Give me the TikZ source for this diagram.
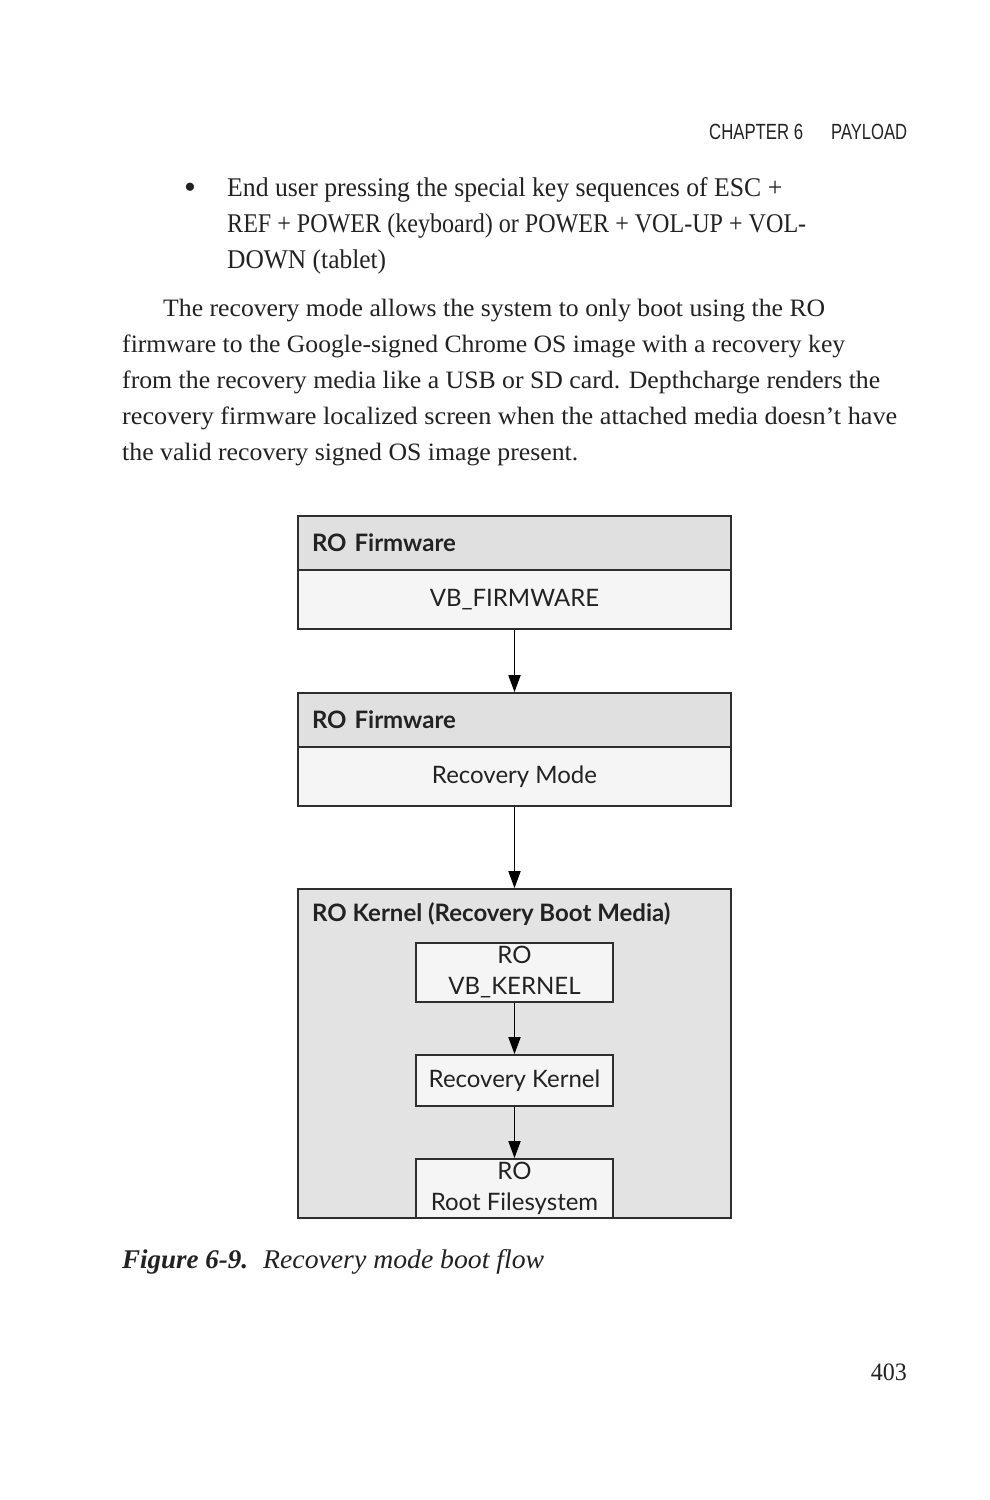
\documentclass[tikz,border=0pt]{standalone}
\usepackage{fontspec}
\usepackage{graphicx}
\setmainfont{Liberation Serif}
\newfontfamily\diagfont{Lato}
\newfontfamily\headfont{Liberation Sans}
\usetikzlibrary{arrows.meta}
\definecolor{hdrgray}{HTML}{E0E0E0}
\definecolor{paleg}{HTML}{F5F5F5}
\definecolor{outerg}{HTML}{E3E3E3}
\definecolor{edgec}{HTML}{2E2E2E}
\definecolor{ink}{HTML}{222222}
\newcommand{\fitw}[2]{\resizebox{#1pt}{\height}{#2}}
\tikzset{
  bodyline/.style={anchor=base west, inner sep=0pt, text=ink, font=\fontsize{25}{25}\selectfont},
  bulletline/.style={anchor=base west, inner sep=0pt, text=ink, font=\fontsize{27}{27}\selectfont},
  headline/.style={anchor=base west, inner sep=0pt, text=ink, font=\headfont\fontsize{22}{22}\selectfont},
  hdrbox/.style={draw=edgec, line width=1.7pt, fill=hdrgray, minimum width=433pt, minimum height=54pt, inner sep=0pt, text width=405pt, align=left, font=\diagfont\bfseries\fontsize{24}{28}\selectfont, text=ink},
  bodybox/.style={draw=edgec, line width=1.7pt, fill=paleg, minimum width=433pt, minimum height=59pt, inner sep=0pt, align=center, font=\diagfont\fontsize{24}{28}\selectfont, text=ink},
  innerbox/.style={draw=edgec, line width=1.7pt, fill=paleg, minimum width=197pt, inner sep=0pt, align=center, font=\diagfont\fontsize{24}{31}\selectfont, text=ink},
  outerbox/.style={draw=edgec, line width=1.7pt, fill=outerg, minimum width=433pt, minimum height=329pt, inner sep=0pt},
  arr/.style={draw=black, line width=1.7pt, -{Triangle[length=17pt, width=12pt]}}
}
\begin{document}
\begin{tikzpicture}[x=1pt, y=-1pt]
\fill[white] (0,0) rectangle (989,1500);
\useasboundingbox (0,0) rectangle (989,1500);

% running header
\node[headline] (hch) at (709,139) {\fitw{94}{CHAPTER 6}};
\node[headline] (hpl) at (831,139) {\fitw{76}{PAYLOAD}};

% bullet item
\node[anchor=base, inner sep=0pt, text=ink, font=\fontsize{34}{34}\selectfont] (bul) at (190,198) {\textbullet};
\node[bulletline] (l1) at (227,196) {\fitw{555}{End user pressing the special key sequences of ESC +}};
\node[bulletline] (l2) at (227,232) {\fitw{579}{REF + POWER (keyboard) or POWER + VOL-UP + VOL-}};
\node[bulletline] (l3) at (227,268) {\fitw{159}{DOWN (tablet)}};

% paragraph
\node[bodyline] (p1) at (163,316) {\fitw{662}{The recovery mode allows the system to only boot using the RO}};
\node[bodyline] (p2) at (122,352) {\fitw{723}{firmware to the Google-signed Chrome OS image with a recovery key}};
\node[bodyline] (p3) at (122,388) {\fitw{758}{from the recovery media like a USB or SD card. Depthcharge renders the}};
\node[bodyline] (p4) at (122,424) {\fitw{775}{recovery firmware localized screen when the attached media doesn’t have}};
\node[bodyline] (p5) at (122,460) {\fitw{456}{the valid recovery signed OS image present.}};

% diagram
\node[hdrbox] (h1) at (514.5,543) {RO Firmware};
\node[bodybox] (b1) at (514.5,599.5) {VB\_FIRMWARE};
\node[hdrbox] (h2) at (514.5,720) {RO Firmware};
\node[bodybox] (b2) at (514.5,776.5) {Recovery Mode};
\node[outerbox] (o3) at (514.5,1053.5) {};
\node[anchor=base west, inner sep=0pt, font=\diagfont\bfseries\fontsize{24}{28}\selectfont, text=ink] (t3) at (312,921) {RO Kernel (Recovery Boot Media)};
\node[innerbox, minimum height=59pt] (ka) at (514.5,972.5) {RO\\VB\_KERNEL};
\node[innerbox, minimum height=51pt] (kb) at (514.5,1080.5) {Recovery Kernel};
\node[innerbox, minimum height=59pt] (kc) at (514.5,1188.5) {RO\\Root Filesystem};

\draw[arr] (b1.south) -- (h2.north);
\draw[arr] (b2.south) -- (o3.north);
\draw[arr] (ka.south) -- (kb.north);
\draw[arr] (kb.south) -- (kc.north);

% caption
\node[bodyline, font=\bfseries\itshape\fontsize{27}{27}\selectfont] (cap1) at (122,1268) {\fitw{126}{Figure 6-9.}};
\node[bodyline, font=\itshape\fontsize{27}{27}\selectfont] (cap2) at (263,1268) {\fitw{281}{Recovery mode boot flow}};

% page number
\node[anchor=base east, inner sep=0pt, text=ink, font=\fontsize{25}{25}\selectfont] (pg) at (907,1380) {\fitw{36}{403}};
\end{tikzpicture}
\end{document}
